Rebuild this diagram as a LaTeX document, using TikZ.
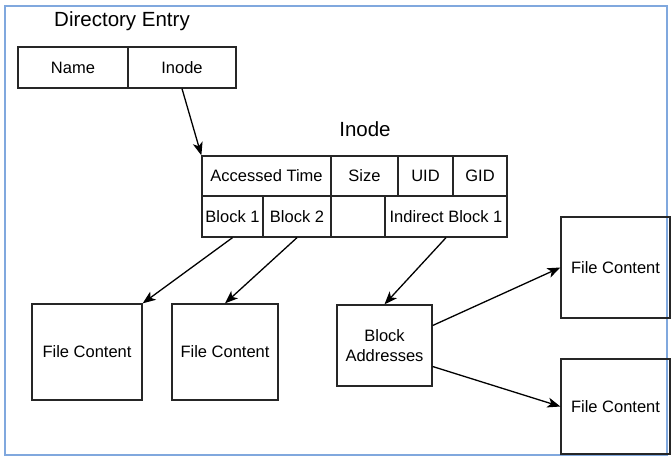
\documentclass[tikz,border=0pt]{standalone}
\usepackage{fontspec}
\setmainfont{Liberation Sans}
\usetikzlibrary{arrows.meta}
\definecolor{framecol}{RGB}{128,168,222}
\tikzset{
  cell/.style={draw=black!85, line width=1.3pt, inner sep=0pt, font=\fontsize{16.5}{19.5}\selectfont, align=center},
  ttl/.style={inner sep=0pt, font=\fontsize{20.5}{24}\selectfont},
  arr/.style={draw=black, line width=1.3pt, -{Stealth[length=13pt,width=10pt,inset=3.5pt]}}
}
\begin{document}
\begin{tikzpicture}[x=1pt,y=-1pt]
\useasboundingbox (0,0) rectangle (671,456);
\fill[white] (0,0) rectangle (671,456);
\draw[framecol, line width=1.5pt] (5,6) rectangle (667,455);
% Directory entry
\node[ttl] (dtitle) at (122,21) {Directory Entry};
\node[cell, minimum width=110pt, minimum height=41pt] (ename) at (73,67.5) {Name};
\node[cell, minimum width=108pt, minimum height=41pt] (eino) at (182,67.5) {Inode};
% Inode table
\node[ttl] (ititle) at (365,129) {Inode};
\node[cell, minimum width=129pt, minimum height=40pt] (at) at (266.5,176) {Accessed Time};
\node[cell, minimum width=67pt, minimum height=40pt] (sz) at (364.5,176) {Size};
\node[cell, minimum width=55pt, minimum height=40pt] (uid) at (425.5,176) {UID};
\node[cell, minimum width=54pt, minimum height=40pt] (gid) at (480,176) {GID};
\node[cell, minimum width=61pt, minimum height=41pt] (b1) at (232.5,216.5) {Block 1};
\node[cell, minimum width=68pt, minimum height=41pt] (b2) at (297,216.5) {Block 2};
\node[cell, minimum width=54pt, minimum height=41pt] (bx) at (358,216.5) {};
\node[cell, minimum width=122pt, minimum height=41pt] (ib) at (446,216.5) {Indirect Block 1};
% content boxes
\node[cell, minimum width=110pt, minimum height=96pt] (f1) at (87,352) {File Content};
\node[cell, minimum width=106pt, minimum height=96pt] (f2) at (225,352) {File Content};
\node[cell, minimum width=95pt, minimum height=81pt] (ba) at (384.5,345.5) {Block\\Addresses};
\node[cell, minimum width=109pt, minimum height=101pt] (f3) at (615.5,267.5) {File Content};
\node[cell, minimum width=109pt, minimum height=95pt] (f4) at (615.5,406.5) {File Content};
% arrows
\draw[arr] (eino.south) -- (at.north west);
\draw[arr] (b1.south) -- (f1.north east);
\draw[arr] (b2.south) -- (f2.north);
\draw[arr] (ib.south) -- (ba.north);
\draw[arr] ([yshift=20pt]ba.east) -- (f3.west);
\draw[arr] ([yshift=-21pt]ba.east) -- (f4.west);
\end{tikzpicture}
\end{document}
